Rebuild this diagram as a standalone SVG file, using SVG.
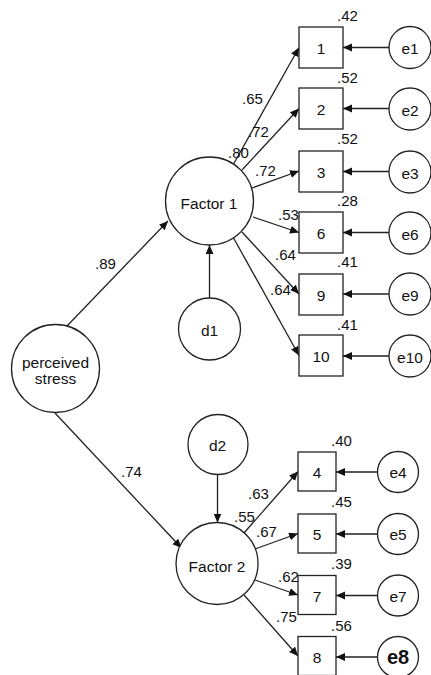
<svg xmlns="http://www.w3.org/2000/svg" width="431" height="675" viewBox="0 0 431 675">
<defs>
<marker id="ah" markerUnits="userSpaceOnUse" markerWidth="10" markerHeight="10" refX="9" refY="4" orient="auto">
<path d="M0,0 L9,4 L0,8 z" fill="#111"/>
</marker>
<style>
.n{fill:#fff;stroke:#222;stroke-width:1.3}
.t{font-family:"Liberation Sans",Arial,sans-serif;font-size:15.5px;fill:#111;text-anchor:middle}
.l{font-family:"Liberation Sans",Arial,sans-serif;font-size:15px;fill:#111}
.c line{stroke:#222;stroke-width:1.3;marker-end:url(#ah)}
</style>
</defs>
<rect width="431" height="675" fill="#fff"/>
<g class="c" id="connectors">
<line x1="67" y1="326" x2="168" y2="221"/>
<line x1="55" y1="413" x2="181.5" y2="548"/>
<line x1="233" y1="165" x2="299" y2="47.5"/>
<line x1="242" y1="170" x2="299" y2="108.5"/>
<line x1="252" y1="188" x2="299" y2="171"/>
<line x1="253" y1="217" x2="299" y2="232.5"/>
<line x1="242" y1="232" x2="299" y2="294"/>
<line x1="233" y1="237" x2="299" y2="355.5"/>
<line x1="209.5" y1="298" x2="209.5" y2="245"/>
<line x1="217.5" y1="471" x2="217.5" y2="522.5"/>
<line x1="244" y1="533" x2="298" y2="471.5"/>
<line x1="255" y1="549" x2="298" y2="533.5"/>
<line x1="255" y1="580" x2="298" y2="595"/>
<line x1="244" y1="595" x2="298" y2="656"/>
<line x1="389" y1="47.5" x2="343" y2="47.5"/>
<line x1="389" y1="108.5" x2="343" y2="108.5"/>
<line x1="389" y1="171.5" x2="343" y2="171.5"/>
<line x1="389" y1="232.5" x2="343" y2="232.5"/>
<line x1="389" y1="294" x2="343" y2="294"/>
<line x1="389" y1="356" x2="343" y2="356"/>
<line x1="377.5" y1="472" x2="336" y2="472"/>
<line x1="377.5" y1="534" x2="336" y2="534"/>
<line x1="377.5" y1="595.5" x2="336" y2="595.5"/>
<line x1="377.5" y1="657" x2="336" y2="657"/>
</g>
<g id="perceived"><circle class="n" cx="55.5" cy="368.5" r="44"/><text class="t" x="55.5" y="367.5">perceived</text><text class="t" x="55.5" y="383.5">stress</text></g>
<g id="factor1"><circle class="n" cx="209.5" cy="201" r="44"/><text class="t" x="209" y="209">Factor 1</text></g>
<g id="factor2"><circle class="n" cx="217" cy="563.5" r="41"/><text class="t" x="217" y="571.5">Factor 2</text></g>
<g id="d1"><circle class="n" cx="209.5" cy="329" r="31"/><text class="t" x="209.5" y="336">d1</text></g>
<g id="d2"><circle class="n" cx="218" cy="444.5" r="30"/><text class="t" x="217.5" y="451">d2</text></g>
<g id="box1"><rect class="n" x="299" y="27" width="44" height="41"/><text class="t" x="321" y="54">1</text></g>
<g id="box2"><rect class="n" x="299" y="88" width="44" height="41"/><text class="t" x="321" y="115">2</text></g>
<g id="box3"><rect class="n" x="299" y="151" width="44" height="41"/><text class="t" x="321" y="178">3</text></g>
<g id="box6"><rect class="n" x="299" y="212" width="44" height="41"/><text class="t" x="321" y="239">6</text></g>
<g id="box9"><rect class="n" x="299" y="274" width="44" height="41"/><text class="t" x="321" y="300.5">9</text></g>
<g id="box10"><rect class="n" x="299" y="335" width="44" height="41"/><text class="t" x="321" y="362">10</text></g>
<g id="box4"><rect class="n" x="298" y="452" width="38" height="39"/><text class="t" x="317" y="478">4</text></g>
<g id="box5"><rect class="n" x="298" y="514" width="38" height="39"/><text class="t" x="317" y="540">5</text></g>
<g id="box7"><rect class="n" x="298" y="575.5" width="38" height="39"/><text class="t" x="317" y="601.5">7</text></g>
<g id="box8"><rect class="n" x="298" y="636.5" width="38" height="39"/><text class="t" x="317" y="662.5">8</text></g>
<g id="e1"><circle class="n" cx="410" cy="47.5" r="21"/><text class="t" x="410" y="54">e1</text></g>
<g id="e2"><circle class="n" cx="410" cy="109" r="21"/><text class="t" x="410" y="115.5">e2</text></g>
<g id="e3"><circle class="n" cx="410" cy="172" r="21"/><text class="t" x="410" y="178.5">e3</text></g>
<g id="e6"><circle class="n" cx="410" cy="233" r="21"/><text class="t" x="410" y="239.5">e6</text></g>
<g id="e9"><circle class="n" cx="410" cy="294" r="21"/><text class="t" x="410" y="300.5">e9</text></g>
<g id="e10"><circle class="n" cx="410" cy="356" r="21"/><text class="t" x="410" y="362.5">e10</text></g>
<g id="e4"><circle class="n" cx="398" cy="472" r="20.5"/><text class="t" x="398" y="478">e4</text></g>
<g id="e5"><circle class="n" cx="398" cy="534" r="20.5"/><text class="t" x="398" y="540">e5</text></g>
<g id="e7"><circle class="n" cx="398" cy="595.5" r="20.5"/><text class="t" x="398" y="601.5">e7</text></g>
<g id="e8"><circle class="n" cx="398" cy="657" r="20.5"/><text class="t" x="398" y="664" style="font-size:20px;font-weight:bold">e8</text></g>
<g id="labels">
<text class="l" x="95" y="269">.89</text>
<text class="l" x="121" y="477">.74</text>
<text class="l" x="337" y="20.5">.42</text>
<text class="l" x="337" y="83">.52</text>
<text class="l" x="337" y="144">.52</text>
<text class="l" x="337" y="205.5">.28</text>
<text class="l" x="337" y="267">.41</text>
<text class="l" x="337" y="330">.41</text>
<text class="l" x="242" y="103.5">.65</text>
<text class="l" x="248" y="137">.72</text>
<text class="l" x="228" y="158">.80</text>
<text class="l" x="255" y="175.5">.72</text>
<text class="l" x="278" y="219.5">.53</text>
<text class="l" x="275" y="260">.64</text>
<text class="l" x="270" y="295">.64</text>
<text class="l" x="331" y="445.5">.40</text>
<text class="l" x="331" y="507">.45</text>
<text class="l" x="331" y="569">.39</text>
<text class="l" x="331" y="630.5">.56</text>
<text class="l" x="248" y="499">.63</text>
<text class="l" x="234" y="521.5">.55</text>
<text class="l" x="256" y="536.5">.67</text>
<text class="l" x="278" y="581.5">.62</text>
<text class="l" x="276" y="621.5">.75</text>
</g>
</svg>
